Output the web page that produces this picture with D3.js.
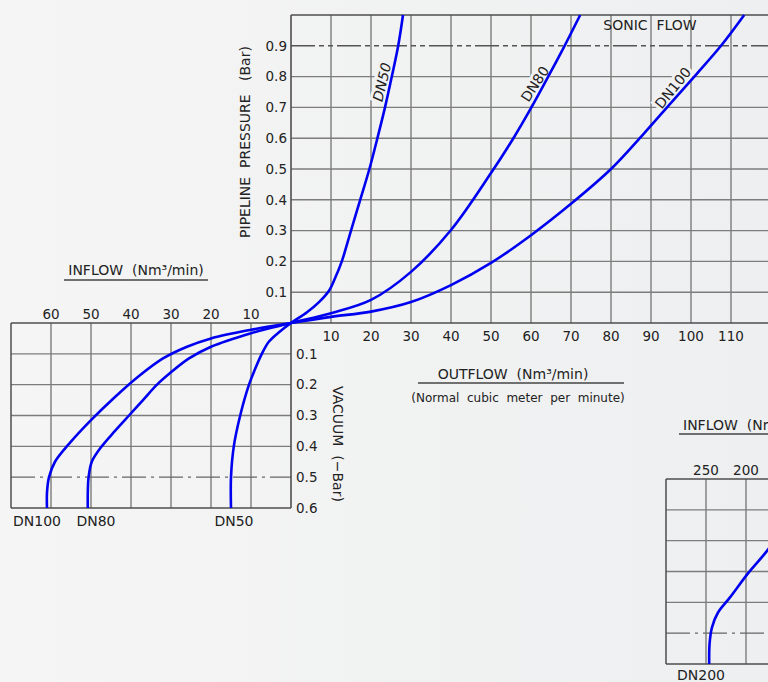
<!DOCTYPE html>
<html lang="en">
<head>
    <meta charset="UTF-8">
    <title>Pipeline Pressure vs Flow</title>
    <style>
        html, body { margin: 0; padding: 0; background: #f3f3f3; }
        svg { display: block; }
        text { font-family: "DejaVu Sans", sans-serif; fill: #222; white-space: pre; }
    </style>
</head>
<body>
    <div id="chart"></div>

    <script src="https://d3js.org/d3.v7.min.js"></script>
    <script>
        // tick labels
        const outflowTicks = [10, 20, 30, 40, 50, 60, 70, 80, 90, 100, 110];
        const pressureTicks = [0.1, 0.2, 0.3, 0.4, 0.5, 0.6, 0.7, 0.8, 0.9];
        const inflowTicks = [10, 20, 30, 40, 50, 60];
        const vacuumTicks = [0.1, 0.2, 0.3, 0.4, 0.5, 0.6];
        const bigInflowTicks = [250, 200];
        const bigInflowGrid = [250, 200, 150];
        const sonicPressure = 0.9;
        const vacuumLimit = 0.5;

        // [flow Nm3/min, bar]
        const dn50Out = [[0, 0], [4, 0.035], [7, 0.068], [9.5, 0.105], [11, 0.145], [12.7, 0.2], [15, 0.3], [17.3, 0.4], [19.6, 0.5], [21.6, 0.6], [23.5, 0.7], [25.2, 0.8], [26.8, 0.9], [28, 1.0]];
        const dn80Out = [[0, 0], [10, 0.032], [20, 0.075], [30, 0.166], [40, 0.302], [50, 0.487], [55.6, 0.6], [60.1, 0.7], [64.3, 0.8], [68.4, 0.9], [72.3, 1.0]];
        const dn100Out = [[0, 0], [10, 0.02], [20, 0.037], [30, 0.068], [40, 0.123], [50, 0.195], [60, 0.285], [70, 0.387], [80, 0.5], [88, 0.612], [95, 0.715], [101.5, 0.81], [107.5, 0.9], [113.3, 1.0]];

        const dn50In = [[0, 0], [3, 0.03], [5.5, 0.06], [7.3, 0.1], [9, 0.15], [10.5, 0.2], [12.7, 0.3], [14.3, 0.4], [15, 0.5], [15, 0.6]];
        const dn80In = [[0, 0], [10, 0.033], [20, 0.077], [25.5, 0.115], [30, 0.16], [33.5, 0.2], [37, 0.25], [40.5, 0.3], [44, 0.35], [47.5, 0.403], [49.8, 0.45], [50.6, 0.5], [50.8, 0.55], [50.8, 0.6]];
        const dn100In = [[0, 0], [10, 0.022], [20, 0.05], [26, 0.077], [32, 0.115], [38, 0.172], [44, 0.24], [50, 0.315], [55.5, 0.392], [59, 0.45], [60.5, 0.5], [61, 0.55], [61, 0.6]];
        const dn200In = [[140, 0.12], [160, 0.18], [174, 0.234], [197.5, 0.306], [220, 0.384], [235, 0.433], [242.5, 0.481], [245.5, 0.533], [246, 0.6]];

        const width = 768, height = 682;
        const svg = d3.select("#chart").append("svg")
            .attr("width", width)
            .attr("height", height);

        const defs = svg.append("defs");
        const grad = defs.append("linearGradient").attr("id", "bg").attr("x1", 0).attr("x2", 1).attr("y1", 0).attr("y2", 0);
        grad.append("stop").attr("offset", 0).attr("stop-color", "#f5f5f5");
        grad.append("stop").attr("offset", 1).attr("stop-color", "#eeeff0");
        svg.append("rect").attr("width", width).attr("height", height).attr("fill", "url(#bg)");

        const xOut = d3.scaleLinear().domain([0, 120]).range([291, 771]);
        const xIn = d3.scaleLinear().domain([0, 70]).range([291, 11]);
        const yP = d3.scaleLinear().domain([0, 1]).range([323, 15]);
        const yV = d3.scaleLinear().domain([0, 0.6]).range([323, 508]);
        const xIn2 = d3.scaleLinear().domain([0, 300]).range([906, 666]);
        const yV2 = d3.scaleLinear().domain([0, 0.6]).range([479, 664]);

        const gridColor = "#7c7c7c", frameColor = "#4e4e4e";
        const grid = svg.append("g").attr("fill", "none");
        const labels = svg.append("g").attr("font-size", 13.5);
        const curveG = svg.append("g");

        function hline(y, x1, x2, opts = {}) {
            grid.append("line")
                .attr("x1", x1).attr("x2", x2).attr("y1", y).attr("y2", y)
                .attr("stroke", opts.color || gridColor)
                .attr("stroke-width", opts.w || 1.4)
                .attr("stroke-dasharray", opts.dash || null);
        }
        function vline(x, y1, y2, opts = {}) {
            grid.append("line")
                .attr("x1", x).attr("x2", x).attr("y1", y1).attr("y2", y2)
                .attr("stroke", opts.color || gridColor)
                .attr("stroke-width", opts.w || 1.4);
        }

        // upper chart (outflow / pressure)
        outflowTicks.concat([120]).forEach(d => vline(xOut(d), yP(1), yP(0)));
        pressureTicks.filter(d => d !== sonicPressure).forEach(d => hline(yP(d), xOut(0), width));
        hline(yP(sonicPressure), xOut(0), width, { color: "#555", w: 1.5, dash: "24,4,5,4,5,4" });
        hline(yP(1), xOut(0), width, { color: frameColor, w: 1.5 });

        // lower-left chart (inflow / vacuum)
        inflowTicks.forEach(d => vline(xIn(d), yV(0), yV(0.6)));
        vacuumTicks.filter(d => d < vacuumLimit).forEach(d => hline(yV(d), xIn(70), xIn(0)));
        hline(yV(vacuumLimit), xIn(70), xIn(0), { color: "#666", w: 1.4, dash: "24,5,3,5" });
        vline(xIn(70), yV(0), yV(0.6), { color: frameColor, w: 1.5 });
        hline(yV(0.6), xIn(70), xIn(0), { color: frameColor, w: 1.5 });

        // axes
        vline(xOut(0), yP(1), yV(0.6), { color: frameColor, w: 1.6 });
        hline(yP(0), xIn(70), width, { color: frameColor, w: 1.6 });

        // lower-right chart (DN200)
        bigInflowGrid.forEach(d => vline(xIn2(d), yV2(0), yV2(0.6)));
        vacuumTicks.filter(d => d < vacuumLimit).forEach(d => hline(yV2(d), xIn2(300), width));
        hline(yV2(vacuumLimit), xIn2(300), width, { color: "#666", w: 1.4, dash: "24,5,3,5" });
        vline(xIn2(300), yV2(0), yV2(0.6), { color: frameColor, w: 1.5 });
        hline(yV2(0), xIn2(300), width, { color: frameColor, w: 1.5 });
        hline(yV2(0.6), xIn2(300), width, { color: frameColor, w: 1.5 });

        // curves
        const line = d3.line().curve(d3.curveCatmullRom.alpha(0.5));
        function curvePoints(out, inn) {
            const top = out.slice().reverse().map(d => [xOut(d[0]), yP(d[1])]);
            const bottom = inn.slice(1).map(d => [xIn(d[0]), yV(d[1])]);
            return top.concat(bottom);
        }
        const curves = [[dn50Out, dn50In], [dn80Out, dn80In], [dn100Out, dn100In]];
        curveG.selectAll("path.dn")
            .data(curves)
            .enter().append("path")
            .attr("class", "dn")
            .attr("d", d => line(curvePoints(d[0], d[1])))
            .attr("fill", "none")
            .attr("stroke", "#0000f0")
            .attr("stroke-width", 2.6);
        curveG.append("path")
            .attr("d", line(dn200In.map(d => [xIn2(d[0]), yV2(d[1])])))
            .attr("fill", "none")
            .attr("stroke", "#0000f0")
            .attr("stroke-width", 2.6);

        // tick labels
        labels.selectAll("text.xo").data(outflowTicks).enter().append("text")
            .attr("x", d => xOut(d)).attr("y", 336).attr("dy", "0.35em")
            .attr("text-anchor", "middle").text(d => d);
        labels.selectAll("text.yp").data(pressureTicks).enter().append("text")
            .attr("x", 287).attr("y", d => yP(d)).attr("dy", "0.35em")
            .attr("text-anchor", "end").text(d => d3.format(".1f")(d));
        labels.selectAll("text.xi").data(inflowTicks).enter().append("text")
            .attr("x", d => xIn(d)).attr("y", 314).attr("dy", "0.35em")
            .attr("text-anchor", "middle").text(d => d);
        labels.selectAll("text.yv").data(vacuumTicks).enter().append("text")
            .attr("x", 296).attr("y", d => yV(d)).attr("dy", "0.35em")
            .attr("text-anchor", "start").text(d => d3.format(".1f")(d));
        labels.selectAll("text.xi2").data(bigInflowTicks).enter().append("text")
            .attr("x", d => xIn2(d)).attr("y", 470).attr("dy", "0.35em")
            .attr("text-anchor", "middle").text(d => d);

        // titles
        function title(txt, x, y, opts = {}) {
            const t = labels.append("text")
                .attr("x", x).attr("y", y).attr("dy", "0.35em")
                .attr("text-anchor", opts.anchor || "middle")
                .attr("font-size", opts.size || 14)
                .text(txt);
            if (opts.rotate) t.attr("transform", `rotate(${opts.rotate},${x},${y})`);
            if (opts.halo) t.attr("stroke", "#f1f1f2").attr("stroke-width", 6).attr("paint-order", "stroke");
            if (opts.italic) t.attr("font-style", "oblique");
            return t;
        }

        title("SONIC  FLOW", 650, 25);
        title("PIPELINE  PRESSURE   (Bar)", 245, 142, { rotate: -90 });
        title("VACUUM  (\u2212Bar)", 338, 444, { rotate: 90 });

        title("INFLOW  (Nm\u00b3/min)", 136, 270);
        hline(280, 64, 208, { color: "#444", w: 1.3 });
        title("OUTFLOW  (Nm\u00b3/min)", 513, 374);
        hline(383, 418, 624, { color: "#444", w: 1.3 });
        title("(Normal  cubic  meter  per  minute)", 518, 398, { size: 12 });
        title("INFLOW  (Nm\u00b3/min)", 683, 425, { anchor: "start" });
        hline(434, 679, width, { color: "#444", w: 1.3 });

        title("DN50", 382, 82, { rotate: -77, halo: true, italic: true });
        title("DN80", 535, 84, { rotate: -57, halo: true });
        title("DN100", 673, 88, { rotate: -51, halo: true });

        title("DN100", 37, 521);
        title("DN80", 96, 521);
        title("DN50", 234, 521);
        title("DN200", 701, 675);
    </script>
</body>
</html>
